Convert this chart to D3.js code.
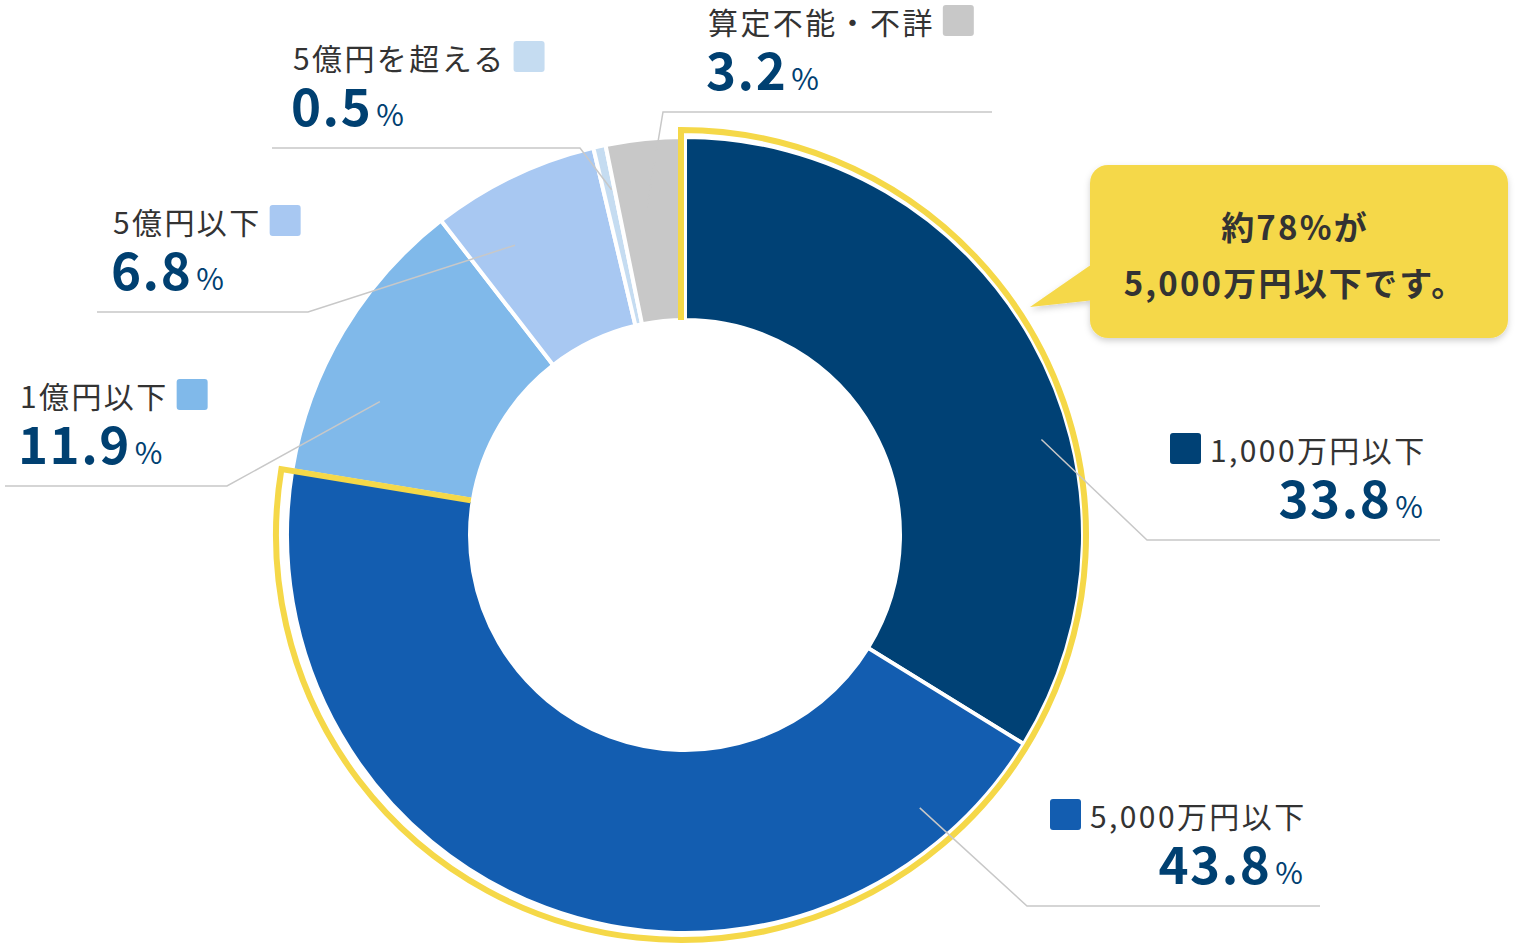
<!DOCTYPE html>
<html><head><meta charset="utf-8">
<script src="https://cdn.jsdelivr.net/npm/d3@7"></script>
<style>body{margin:0;background:#fff}svg{display:block;font-family:"Noto Sans CJK JP","Noto Sans",sans-serif}</style>
</head><body><svg id="chart" width="1527" height="946"></svg>
<script>
// data
const categories = ['1,000万円以下', '5,000万円以下', '1億円以下', '5億円以下', '5億円を超える', '算定不能・不詳'];
const values = [33.8, 43.8, 11.9, 6.8, 0.5, 3.2];
const colors = ['#004175', '#135db0', '#80b9ea', '#a8c8f2', '#c5dcf1', '#c8c8c8'];
const calloutLines = ['約78%が', '5,000万円以下です。'];

// label layout: leader start (angle deg, radius), underline y, x range, which end the leader meets
const layout = [
  {ang: 75, r: 369, ux0: 1147, ux1: 1440, uy: 540, right: true, sq: 1170, join: 0},
  {ang: 139.3, r: 360, ux0: 1027, ux1: 1320, uy: 906, right: true, sq: 1050, join: 0},
  {ang: 293.6, r: 333, ux0: 5, ux1: 227, uy: 486, right: false, tx: 20, join: 1},
  {ang: 329.6, r: 336, ux0: 97, ux1: 308, uy: 312, right: false, tx: 113, join: 1},
  {ang: 348, r: 353, ux0: 272, ux1: 580, uy: 148, right: false, tx: 293, join: 1},
  {ang: 353.4, r: 330, ux0: 663, ux1: 992, uy: 112, right: false, tx: 708, join: 0}
];

const svg = d3.select('#chart');
const cx = 685, cy = 535, rIn = 215, rOut = 398;
const g = svg.append('g').attr('transform', `translate(${cx},${cy})`);

const pie = d3.pie().sort(null).value(d => d)(values);
const arc = d3.arc().innerRadius(rIn).outerRadius(rOut);

g.selectAll('path.slice').data(pie).enter().append('path')
  .attr('class', 'slice')
  .attr('d', arc)
  .attr('fill', (d, i) => colors[i])
  .attr('stroke', '#fff').attr('stroke-width', 4);

// yellow highlight around first two slices
const a0 = pie[0].startAngle, a1 = pie[1].endAngle, rY = 405;
const pt = (a, r) => [r * Math.sin(a) - 4, -r * Math.cos(a)];
const p = d3.path();
p.moveTo(...pt(a0, rIn)); p.lineTo(...pt(a0, rY));
p.arc(-4, 0, rY, a0 - Math.PI / 2, a1 - Math.PI / 2);
p.lineTo(...pt(a1, rIn - 2));
g.append('path').attr('d', p.toString()).attr('fill', 'none')
  .attr('stroke', '#f5d848').attr('stroke-width', 6);

// labels
const LS = 2.4;
layout.forEach((l, i) => {
  const a = l.ang * Math.PI / 180;
  const sx = cx + l.r * Math.sin(a), sy = cy - l.r * Math.cos(a);
  const ex = l.join === 0 ? l.ux0 : l.ux1;
  const ox = l.join === 0 ? l.ux1 : l.ux0;
  svg.append('polyline')
    .attr('points', `${sx},${sy} ${ex},${l.uy} ${ox},${l.uy}`)
    .attr('fill', 'none').attr('stroke', '#c8c8c8').attr('stroke-width', 1.5);
  const nameY = l.uy - 78, valY = l.uy - 22;
  const val = (t) => {
    t.append('tspan').attr('font-size', 51).attr('font-weight', 'bold').attr('letter-spacing', 1.5).text(values[i].toFixed(1));
    t.append('tspan').attr('font-size', 30).attr('dx', 4).text('%');
  };
  if (l.right) {
    svg.append('rect').attr('x', l.sq).attr('y', nameY - 29).attr('width', 31).attr('height', 31)
      .attr('rx', 3).attr('fill', colors[i]);
    svg.append('text').attr('x', l.sq + 40).attr('y', nameY).attr('font-size', 30).attr('letter-spacing', LS).attr('fill', '#333')
      .text(categories[i]);
    val(svg.append('text').attr('x', l.ux1 - 17).attr('y', valY).attr('text-anchor', 'end').attr('fill', '#004071'));
  } else {
    const nt = svg.append('text').attr('x', l.tx).attr('y', nameY).attr('font-size', 30).attr('letter-spacing', LS).attr('fill', '#333')
      .text(categories[i]);
    const w = nt.node().getComputedTextLength();
    svg.append('rect').attr('x', l.tx + w + 8).attr('y', nameY - 29).attr('width', 31).attr('height', 31)
      .attr('rx', 3).attr('fill', colors[i]);
    val(svg.append('text').attr('x', l.tx - 2).attr('y', valY).attr('fill', '#004071'));
  }
});

// callout
const defs = svg.append('defs');
defs.append('filter').attr('id', 'sh').append('feDropShadow')
  .attr('dx', 0).attr('dy', 3).attr('stdDeviation', 3).attr('flood-color', '#000').attr('flood-opacity', 0.18);
const cg = svg.append('g').attr('filter', 'url(#sh)');
cg.append('path').attr('d', 'M1095,262 L1030,307 L1095,300 Z').attr('fill', '#f5d84a');
cg.append('rect').attr('x', 1090).attr('y', 165).attr('width', 418).attr('height', 173).attr('rx', 18).attr('fill', '#f5d84a');
svg.selectAll('text.callout').data(calloutLines).enter().append('text')
  .attr('class', 'callout').attr('x', 1295).attr('y', (d, i) => 240 + i * 56)
  .attr('text-anchor', 'middle').attr('font-size', 33).attr('letter-spacing', 2.2).attr('font-weight', 'bold').attr('fill', '#333')
  .text(d => d);
</script></body></html>
